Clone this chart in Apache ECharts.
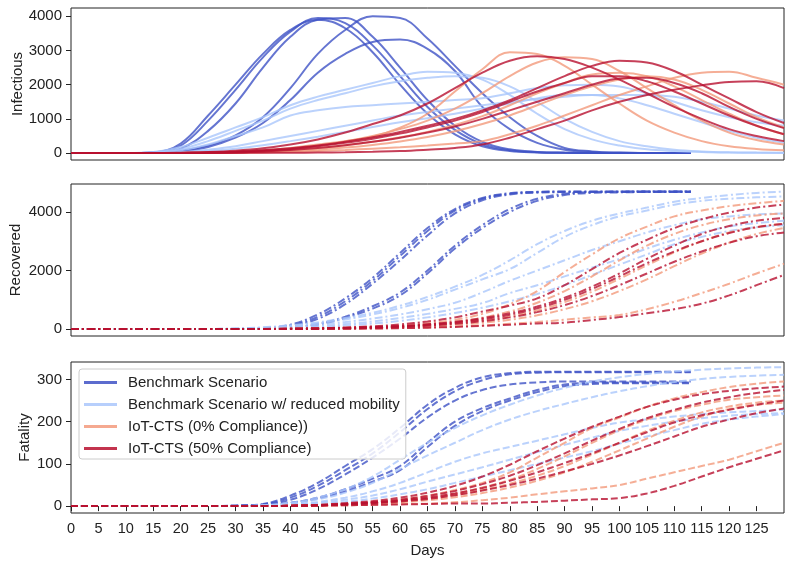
<!DOCTYPE html>
<html><head><meta charset="utf-8">
<script src="https://cdn.jsdelivr.net/npm/echarts@6/dist/echarts.min.js"></script>
<style>html,body{margin:0;padding:0;background:#fff}#c{width:792px;height:564px}</style>
</head><body><div id="c"></div><script>
const days = [0,5,10,15,20,25,30,35,40,45,50,55,60,65,70,75,80,85,90,95,100,105,110,115,120,125,130];
const daysBench = [0,5,10,15,20,25,30,35,40,45,50,55,60,65,70,75,80,85,90,95,100,105,110,113];
const groupNames = ['Benchmark Scenario','Benchmark Scenario w/ reduced mobility','IoT-CTS (0% Compliance))','IoT-CTS (50% Compliance)'];
const groupColors = ['#3f52c6','#aac7fb','#f39a7c','#b8102f'];
const xTicks = [0,5,10,15,20,25,30,35,40,45,50,55,60,65,70,75,80,85,90,95,100,105,110,115,120,125];
const infTicks = [0,1000,2000,3000,4000];
const recTicks = [0,2000,4000];
const fatTicks = [0,100,200,300];

// Infectious
const infBench = [
 [0,0,0,20,280,1100,2000,2900,3600,3900,3650,2950,2000,1150,550,200,60,20,8,5,3,2,1,1],
 [0,0,0,15,220,950,1850,2800,3550,3950,3800,3150,2250,1350,680,260,85,28,10,5,3,2,1,1],
 [0,0,0,10,130,650,1450,2500,3400,3900,3950,3400,2500,1550,800,330,110,35,12,5,3,2,1,1],
 [0,0,0,5,70,220,520,1050,1900,2900,3600,4000,3950,3350,2550,1750,1050,500,150,50,15,5,3,2],
 [0,0,0,5,50,180,450,880,1550,2350,2900,3250,3320,3050,2400,1350,700,300,100,35,10,4,2,1]
];
const infReduced = [
 [0,0,0,30,180,450,750,1050,1400,1650,1850,2050,2250,2380,2350,2150,1700,1150,700,400,220,110,60,30,15,10,5],
 [0,0,0,20,120,350,650,950,1300,1550,1750,1950,2100,2200,2250,2200,1950,1500,1000,620,350,200,100,50,25,15,10],
 [0,0,0,10,80,250,500,750,1100,1250,1350,1400,1450,1500,1550,1600,1750,1900,1980,2000,1950,1750,1500,1250,1050,900,800],
 [0,0,0,5,30,100,200,350,500,650,800,950,1100,1200,1300,1400,1500,1580,1650,1700,1700,1700,1650,1500,1300,1100,950],
 [0,0,0,5,20,60,130,230,350,480,620,760,900,1020,1150,1300,1450,1600,1700,1700,1600,1400,1150,900,650,450,300]
];
const infIot0 = [
 [0,0,0,0,5,15,40,80,150,250,350,480,740,1150,1800,2450,2950,2900,2550,2000,1450,950,600,350,200,120,80],
 [0,0,0,0,5,15,35,70,130,220,340,500,700,950,1300,1750,2250,2650,2800,2750,2400,1900,1400,950,600,380,250],
 [0,0,0,0,0,10,25,50,90,150,230,330,460,620,820,1080,1400,1750,2050,2300,2350,2250,1950,1550,1150,800,550],
 [0,0,0,0,0,5,15,30,60,100,160,240,340,470,640,850,1100,1400,1700,1950,2150,2250,2150,1850,1450,1050,750],
 [0,0,0,0,0,5,10,20,40,60,90,130,170,220,280,350,550,800,1100,1400,1700,1950,2200,2350,2380,2200,2000]
];
const infIot50 = [
 [0,0,0,0,10,30,70,140,250,400,600,850,1100,1450,1900,2350,2700,2830,2750,2500,2150,1750,1350,1000,700,500,350],
 [0,0,0,0,5,15,40,80,140,220,330,460,620,800,1000,1250,1550,1900,2250,2550,2700,2650,2400,2000,1600,1200,880],
 [0,0,0,0,5,15,35,70,120,200,300,420,570,750,950,1200,1500,1800,2050,2250,2250,2100,1800,1450,1100,800,550],
 [0,0,0,0,0,10,25,50,90,150,230,330,450,600,780,1000,1250,1500,1750,2000,2180,2200,2050,1750,1350,1000,730],
 [0,0,0,0,0,3,5,8,10,15,25,40,60,100,150,250,450,700,950,1250,1500,1700,1850,1980,2080,2100,1900]
];
// Recovered
const recBench = [
 [0,0,0,0,0,0,5,30,150,500,1050,1750,2600,3450,4100,4480,4640,4690,4700,4700,4700,4700,4700,4700],
 [0,0,0,0,0,0,5,25,120,420,950,1650,2500,3350,4050,4450,4620,4680,4690,4690,4690,4690,4690,4690],
 [0,0,0,0,0,0,3,20,100,350,850,1550,2350,3200,3950,4400,4600,4660,4680,4680,4680,4680,4680,4680],
 [0,0,0,0,0,0,2,10,50,180,420,780,1250,2000,2850,3550,4100,4450,4620,4680,4700,4710,4710,4710],
 [0,0,0,0,0,0,2,10,40,150,380,700,1150,1900,2750,3450,4000,4380,4580,4650,4670,4680,4680,4680]
];
const recReduced = [
 [0,0,0,0,0,5,20,60,130,230,380,560,800,1100,1450,1850,2350,2900,3350,3700,3950,4150,4350,4480,4580,4650,4700],
 [0,0,0,0,0,5,15,50,110,200,330,500,720,1000,1350,1700,2050,2600,3150,3550,3850,4050,4250,4380,4450,4500,4530],
 [0,0,0,0,0,3,10,35,80,150,240,360,500,680,900,1250,1650,2000,2350,2700,3000,3300,3550,3750,3850,3920,3950],
 [0,0,0,0,0,2,8,25,55,100,170,260,380,520,690,890,1230,1500,1800,2100,2400,2750,3050,3300,3500,3620,3700],
 [0,0,0,0,0,1,5,15,35,70,120,190,280,400,550,730,950,1200,1500,1850,2200,2550,2900,3150,3350,3480,3550]
];
const recIot0 = [
 [0,0,0,0,0,0,2,5,12,25,45,75,120,200,320,520,850,1300,1950,2550,3100,3500,3850,4050,4200,4300,4380],
 [0,0,0,0,0,0,1,4,10,20,38,62,100,160,250,390,600,900,1300,1800,2350,2850,3250,3550,3750,3880,3950],
 [0,0,0,0,0,0,1,3,8,16,30,50,80,125,190,290,430,640,920,1280,1720,2180,2620,3000,3300,3480,3600],
 [0,0,0,0,0,0,1,2,6,12,22,38,60,95,145,215,320,470,680,950,1300,1700,2150,2580,2950,3250,3450],
 [0,0,0,0,0,0,0,1,3,7,13,22,35,55,85,125,180,240,320,400,480,680,930,1230,1550,1900,2230]
];
const recIot50 = [
 [0,0,0,0,0,0,2,6,15,30,55,95,160,260,400,600,800,1050,1500,2050,2600,3050,3450,3750,3980,4150,4250],
 [0,0,0,0,0,0,1,4,10,22,40,65,105,165,250,370,540,770,1070,1450,1900,2400,2850,3250,3520,3700,3800],
 [0,0,0,0,0,0,1,3,9,19,35,58,92,145,220,330,490,710,1000,1370,1800,2250,2650,3000,3280,3480,3600],
 [0,0,0,0,0,0,1,2,7,15,28,47,75,118,180,270,400,580,820,1130,1500,1900,2300,2650,2950,3170,3300],
 [0,0,0,0,0,0,0,1,3,7,12,20,32,50,75,110,150,190,220,310,410,540,680,870,1150,1500,1850]
];
// Fatality
const fatBench = [
 [0,0,0,0,0,0,1,5,25,55,95,135,185,240,280,305,315,318,318,318,318,318,318,318],
 [0,0,0,0,0,0,1,4,20,48,85,125,175,230,272,298,312,316,317,317,317,317,317,317],
 [0,0,0,0,0,0,1,3,15,40,75,115,160,210,250,275,288,293,295,295,295,295,295,295],
 [0,0,0,0,0,0,0,2,8,20,40,65,95,150,200,232,255,275,288,292,293,293,293,293],
 [0,0,0,0,0,0,0,2,7,18,35,58,85,140,190,225,250,270,284,289,291,291,291,291]
];
const fatReduced = [
 [0,0,0,0,0,0,0,2,8,20,40,70,110,150,185,215,240,262,280,295,305,313,319,323,326,328,329],
 [0,0,0,0,0,0,0,2,6,16,32,55,88,120,150,180,205,225,242,258,272,284,294,301,306,309,311],
 [0,0,0,0,0,0,0,1,4,10,20,35,55,80,105,125,140,155,170,185,198,205,212,218,222,225,228],
 [0,0,0,0,0,0,0,1,3,8,15,25,40,58,75,92,110,128,145,162,178,190,200,208,214,218,220],
 [0,0,0,0,0,0,0,0,2,5,10,18,28,40,55,70,85,100,115,130,148,165,180,195,205,212,218]
];
const fatIot0 = [
 [0,0,0,0,0,0,0,0,1,3,6,10,16,25,38,55,80,115,150,185,210,235,255,270,282,290,295],
 [0,0,0,0,0,0,0,0,1,2,5,8,13,20,30,44,62,88,118,150,180,205,225,240,252,258,262],
 [0,0,0,0,0,0,0,0,1,2,4,7,11,17,26,38,53,72,95,122,150,178,202,222,236,245,250],
 [0,0,0,0,0,0,0,0,0,1,3,5,9,14,21,31,44,60,80,105,132,160,188,212,230,240,245],
 [0,0,0,0,0,0,0,0,0,1,2,3,5,6,9,14,20,28,35,42,50,65,80,95,110,130,150]
];
const fatIot50 = [
 [0,0,0,0,0,0,0,0,1,3,7,12,20,32,48,70,98,130,160,188,212,235,252,265,273,279,283],
 [0,0,0,0,0,0,0,0,1,2,5,9,15,24,36,52,72,97,125,155,183,208,228,245,258,268,275],
 [0,0,0,0,0,0,0,0,1,2,5,8,13,20,30,43,60,80,102,125,150,175,198,215,228,240,250],
 [0,0,0,0,0,0,0,0,1,2,4,7,11,17,26,37,50,65,82,100,120,142,165,188,205,220,231],
 [0,0,0,0,0,0,0,0,0,1,2,3,4,5,6,6,8,10,13,16,19,30,48,70,92,112,132]
];

const panels = [
  {groups:[infBench,infReduced,infIot0,infIot50], dash:'solid'},
  {groups:[recBench,recReduced,recIot0,recIot50], dash:[8,3,2,3]},
  {groups:[fatBench,fatReduced,fatIot0,fatIot50], dash:[7,3]}
];

const FONT = 'Liberation Sans, Arial, sans-serif';
const series = [];
panels.forEach((p, pi) => {
  p.groups.forEach((runs, gi) => {
    const xs = gi === 0 ? daysBench : days;
    runs.forEach(run => {
      series.push({
        type:'line', name: groupNames[gi], xAxisIndex: pi, yAxisIndex: pi,
        data: run.map((v, i) => [xs[i], v]),
        showSymbol:false, symbol:'none', smooth:0.4, silent:true,
        lineStyle:{color: groupColors[gi], width:2, opacity:0.8, type: p.dash},
        itemStyle:{color: groupColors[gi], opacity:0.85},
        animation:false
      });
    });
  });
});

const grids = [
  {left:71, right:8, top:8, height:152},
  {left:71, right:8, top:184, height:152},
  {left:71, right:8, top:362, height:151}
].map(g => Object.assign(g, {show:true, borderColor:'#222', borderWidth:1, containLabel:false, outerBoundsMode:'none'}));

const xAxes = [0,1,2].map(i => ({
  type:'value', gridIndex:i, min:0, max:130, interval:5,
  axisLine:{show:false}, splitLine:{show:false},
  axisTick:{show: i===2, length:5, lineStyle:{color:'#222'}, customValues: xTicks},
  axisLabel:{show: i===2, color:'#222', fontSize:14.5, fontFamily:FONT, margin:8, customValues: xTicks},
  name: i===2 ? 'Days' : '', nameLocation:'middle', nameGap:30, nameMoveOverlap:false,
  nameTextStyle:{color:'#222', fontSize:15, fontFamily:FONT}
}));

const yConf = [
  {min:-202, max:4242, ticks:infTicks, name:'Infectious', gap:46},
  {min:-236, max:4956, ticks:recTicks, name:'Recovered', gap:48},
  {min:-16.3, max:341.3, ticks:fatTicks, name:'Fatality', gap:39}
];
const yAxes = yConf.map((c, i) => ({
  type:'value', gridIndex:i, min:c.min, max:c.max,
  axisLine:{show:false}, splitLine:{show:false},
  axisTick:{show:true, length:5, lineStyle:{color:'#222'}, customValues:c.ticks},
  axisLabel:{color:'#222', fontSize:15, fontFamily:FONT, margin:9, customValues:c.ticks,
    formatter: v => String(v)},
  name:c.name, nameLocation:'middle', nameGap:c.gap, nameRotate:90, nameMoveOverlap:false,
  nameTextStyle:{color:'#222', fontSize:15, fontFamily:FONT}
}));

const chart = echarts.init(document.getElementById('c'), null, {renderer:'canvas'});
chart.setOption({
  animation:false,
  backgroundColor:'#fff',
  grid: grids,
  xAxis: xAxes,
  yAxis: yAxes,
  legend:{
    data: groupNames, orient:'vertical', left:79, top:369,
    padding:[6,6,3,5], itemGap:7, itemWidth:33, itemHeight:3, icon:'rect',
    backgroundColor:'rgba(255,255,255,0.85)', borderColor:'#cccccc', borderWidth:1, borderRadius:3,
    textStyle:{color:'#222', fontSize:15, fontFamily:FONT, padding:[0,0,0,6]},
    selectedMode:false
  },
  series: series
});
</script></body></html>
